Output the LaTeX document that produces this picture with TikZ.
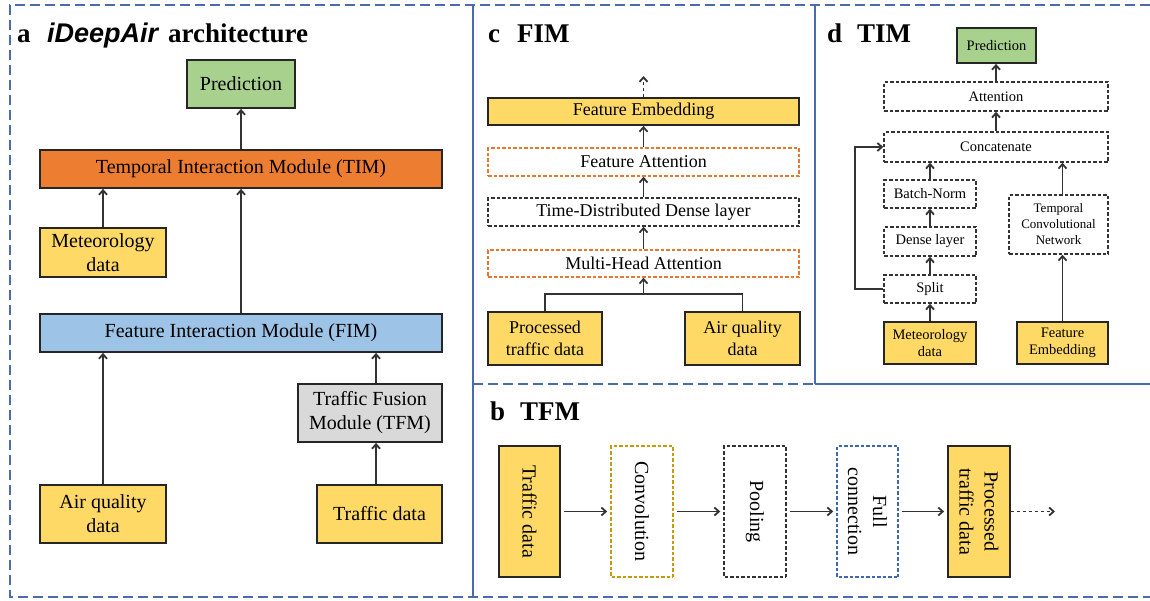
\documentclass[tikz,border=0pt]{standalone}
\usepackage{fontspec}
\setmainfont{Liberation Serif}
\newfontfamily\sansbi{Liberation Sans}
\usetikzlibrary{arrows.meta}
\definecolor{fyel}{HTML}{FFD966}
\definecolor{fgreen}{HTML}{A9D18E}
\definecolor{forange}{HTML}{ED7D31}
\definecolor{fblue}{HTML}{9DC3E6}
\definecolor{fgray}{HTML}{D9D9D9}
\definecolor{frame}{HTML}{4A6BB0}
\definecolor{dorange}{HTML}{E8772E}
\definecolor{dgold}{HTML}{C99A06}
\definecolor{dblue}{HTML}{3F66B5}
\begin{document}
\begin{tikzpicture}[x=1pt,y=-1pt,
  box/.style={draw=black!85, line width=1.8pt, inner sep=0pt, align=center},
  dbox/.style={draw=black!80, line width=1.5pt, dash pattern=on 3.5pt off 2pt, inner sep=0pt, align=center},
  arr/.style={-{Straight Barb[length=4.5pt,width=8pt]}, line width=1.8pt, draw=black!80},
  farr/.style={arr, dash pattern=on 3.5pt off 2.5pt},
  fa/.style={font=\fontsize{20}{24}\selectfont},
  fb/.style={font=\fontsize{20}{25}\selectfont},
  fc/.style={font=\fontsize{18}{22}\selectfont},
  fd/.style={font=\fontsize{14.5}{17}\selectfont},
  ttl/.style={anchor=base west, inner sep=0pt, font=\fontsize{27}{30}\selectfont\bfseries},
  frm/.style={draw=frame, line width=1.7pt},
  frmd/.style={frm, dash pattern=on 10pt off 5pt}
]
\useasboundingbox (0,0) rectangle (1150,600);

% ---------- frames ----------
\draw[frmd] (1150,5) -- (10,5) -- (10,597) -- (1150,597);
\draw[frm] (473,5) -- (473,597);
\draw[frm] (815,5) -- (815,384);
\draw[frmd] (473,384) -- (815,384);
\draw[frm] (815,384) -- (1150,384);

% ---------- panel a ----------
\node[ttl] (ta) at (17,42) {a};
\node[ttl] (tb1) at (47,42) {\sansbi\bfseries\itshape iDeepAir};
\node[ttl] (tb2) at (168,42) {architecture};

\node[box, fa, fill=fgreen, minimum width=108, minimum height=48] (pred) at (241,84) {Prediction};
\node[box, fa, fill=forange, minimum width=402, minimum height=38] (tim) at (241,169) {Temporal Interaction Module (TIM)};
\node[box, fa, fill=fyel, minimum width=126, minimum height=49] (met) at (103,252.5) {Meteorology\\data};
\node[box, fa, fill=fblue, minimum width=402, minimum height=38] (fim) at (241,333) {Feature Interaction Module (FIM)};
\node[box, fa, fill=fgray, minimum width=144, minimum height=58] (tfm) at (370,413) {Traffic Fusion\\Module (TFM)};
\node[box, fa, fill=fyel, minimum width=126, minimum height=58] (aq) at (103,514) {Air quality\\data};
\node[box, fa, fill=fyel, minimum width=125, minimum height=58] (traf) at (379.5,514) {Traffic data};

\draw[arr] (tim.north) -- (pred.south);
\draw[arr] (met.north) -- (met.north |- tim.south);
\draw[arr] (fim.north) -- (tim.south);
\draw[arr] (aq.north) -- (aq.north |- fim.south);
\draw[arr] (traf.north -| 376,0) -- (376,0 |- tfm.south);
\draw[arr] (tfm.north -| 376,0) -- (376,0 |- fim.south);

% ---------- panel c ----------
\node[ttl] (tc1) at (488,42) {c};
\node[ttl] (tc2) at (517,42) {FIM};

\node[box, fc, fill=fyel, minimum width=311, minimum height=27] (cfe) at (643.5,111.5) {Feature Embedding};
\node[dbox, fc, draw=dorange, minimum width=311, minimum height=28] (cfa) at (643.5,162) {Feature Attention};
\node[dbox, fc, minimum width=311, minimum height=28] (ctd) at (643.5,212) {Time-Distributed Dense layer};
\node[dbox, fc, draw=dorange, minimum width=311, minimum height=27] (cmh) at (643.5,263.5) {Multi-Head Attention};
\node[box, fc, fill=fyel, minimum width=114, minimum height=53] (cptd) at (545,338.5) {Processed\\traffic data};
\node[box, fc, fill=fyel, minimum width=115, minimum height=53] (caq) at (742.5,338.5) {Air quality\\data};
\coordinate (cj) at (643.5,294);
\coordinate (cout) at (643.5,76);

\draw[farr] (cfe.north) -- (cout);
\draw[arr] (cfa.north) -- (cfe.south);
\draw[arr] (ctd.north) -- (cfa.south);
\draw[arr] (cmh.north) -- (ctd.south);
\draw[line width=1.8pt, draw=black!80] (cptd.north) |- (cj) -| (caq.north);
\draw[arr] (cj) -- (cmh.south);

% ---------- panel d ----------
\node[ttl] (td1) at (827,42) {d};
\node[ttl] (td2) at (857,42) {TIM};

\node[box, fd, fill=fgreen, minimum width=79, minimum height=35] (dpred) at (996.5,45.5) {Prediction};
\node[dbox, fd, minimum width=224, minimum height=29] (datt) at (996,96.5) {Attention};
\node[dbox, fd, minimum width=224, minimum height=30] (dcat) at (996,147) {Concatenate};
\node[dbox, fd, minimum width=92, minimum height=28] (dbn) at (930,194) {Batch-Norm};
\node[dbox, fd, minimum width=92, minimum height=29] (dden) at (930,241.5) {Dense layer};
\node[dbox, fd, minimum width=92, minimum height=28] (dspl) at (930,289) {Split};
\node[box, fd, fill=fyel, minimum width=92, minimum height=42] (dmet) at (930,343) {Meteorology\\data};
\node[dbox, font=\fontsize{13}{16}\selectfont, minimum width=99, minimum height=59] (dtcn) at (1058.5,224.5) {Temporal\\Convolutional\\Network};
\node[box, fd, fill=fyel, minimum width=91, minimum height=42] (dfe) at (1062.5,343) {Feature\\Embedding};

\draw[arr] (datt.north) -- (datt.north |- dpred.south);
\draw[arr] (dcat.north) -- (datt.south);
\draw[arr] (dbn.north) -- (dbn.north |- dcat.south);
\draw[arr] (dden.north) -- (dbn.south);
\draw[arr] (dspl.north) -- (dden.south);
\draw[arr] (dmet.north) -- (dspl.south);
\draw[arr] (dfe.north) -- (dfe.north |- dtcn.south);
\draw[arr] (dfe.north |- dtcn.north) -- (dfe.north |- dcat.south);
\draw[arr] (dspl.west) -- ++(-28,0) |- (dcat.west);

% ---------- panel b ----------
\node[ttl] (tbb1) at (490,420) {b};
\node[ttl] (tbb2) at (520,420) {TFM};

\node[box, fb, fill=fyel, rotate=-90, minimum width=131, minimum height=61] (btr) at (529.5,511.5) {Traffic data};
\node[dbox, fb, draw=dgold, rotate=-90, minimum width=131, minimum height=62] (bconv) at (642,511.5) {Convolution};
\node[dbox, fb, rotate=-90, minimum width=131, minimum height=62] (bpool) at (755,511.5) {Pooling};
\node[dbox, fb, draw=dblue, rotate=-90, minimum width=131, minimum height=61] (bfull) at (867.5,511.5) {Full\\connection};
\node[box, fb, fill=fyel, rotate=-90, minimum width=131, minimum height=62] (bproc) at (979,511.5) {Processed\\traffic data};
\coordinate (bout) at (1055,511.5);

\draw[arr] ([xshift=3pt]btr.north) -- ([xshift=-3pt]bconv.south);
\draw[arr] ([xshift=3pt]bconv.north) -- ([xshift=-3pt]bpool.south);
\draw[arr] ([xshift=3pt]bpool.north) -- ([xshift=-3pt]bfull.south);
\draw[arr] ([xshift=3pt]bfull.north) -- ([xshift=-3pt]bproc.south);
\draw[farr] (bproc.north) -- (bout);
\end{tikzpicture}
\end{document}
